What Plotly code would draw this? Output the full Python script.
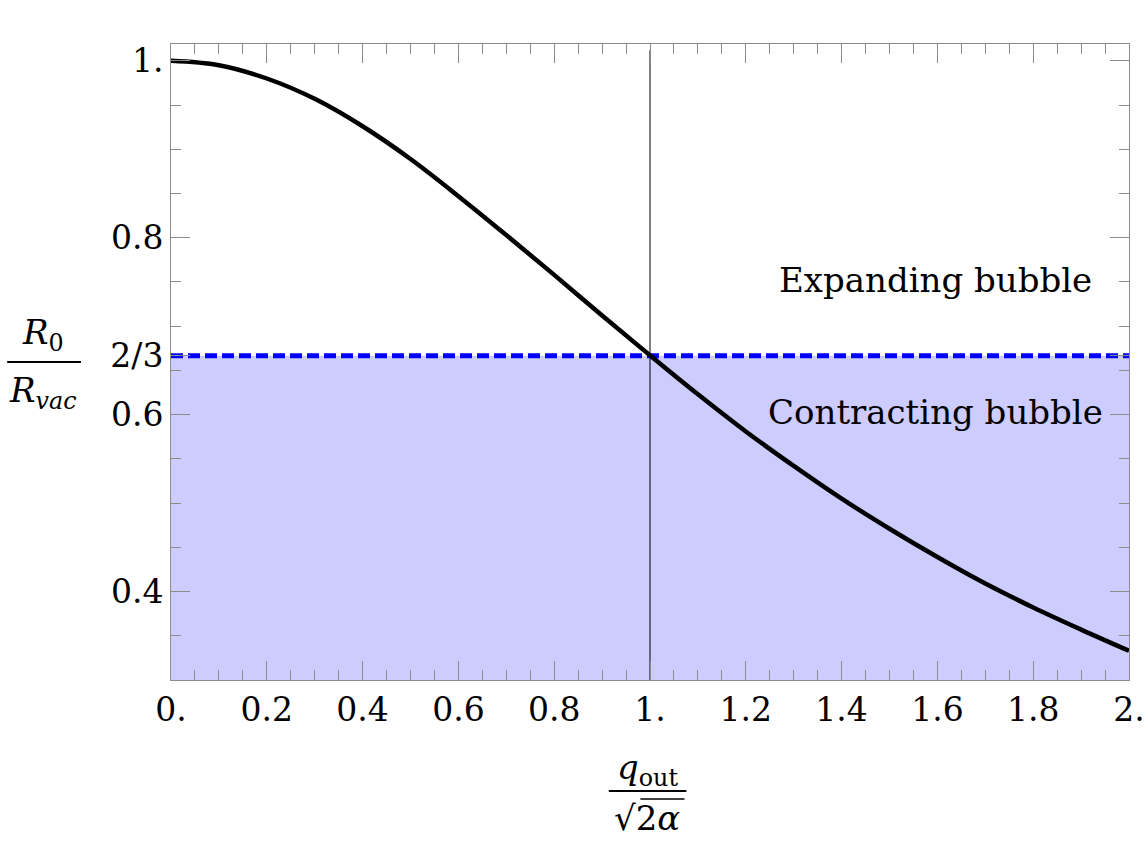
import plotly.graph_objects as go

# Values
q_vals = [0.0, 0.1, 0.2, 0.3, 0.4, 0.5, 0.6, 0.7, 0.8, 0.9, 1.0,
          1.1, 1.2, 1.3, 1.4, 1.5, 1.6, 1.7, 1.8, 1.9, 2.0]
r_vals = [1.000, 0.995, 0.980, 0.957, 0.926, 0.889, 0.847, 0.803, 0.758, 0.712, 0.667,
          0.623, 0.581, 0.542, 0.505, 0.471, 0.439, 0.409, 0.382, 0.357, 0.333]
threshold = 2 / 3
x_range = [0.0, 2.0]
y_range = [0.3, 1.019]
vline_x = 1.0
vline_y = [0.25, 1.012]
x_tickvals = [0.0, 0.2, 0.4, 0.6, 0.8, 1.0, 1.2, 1.4, 1.6, 1.8, 2.0]
x_ticktext = ["0.", "0.2", "0.4", "0.6", "0.8", "1.", "1.2", "1.4", "1.6", "1.8", "2."]
y_tickvals = [0.4, 0.6, threshold, 0.8, 1.0]
y_ticktext = ["0.4", "0.6", "2/3", "0.8", "1."]
region_labels = ["Expanding bubble", "Contracting bubble"]
region_label_x = [1.597, 1.597]
region_label_y = [0.752, 0.603]

FONT = "DejaVu Serif"
AX = "#8c8c8c"

fig = go.Figure()

fig.add_trace(go.Scatter(x=x_range, y=[threshold, threshold], mode="lines",
                         line=dict(width=0, color="rgba(0,0,0,0)"),
                         fill="tozeroy", fillcolor="#ccccff", hoverinfo="skip",
                         showlegend=False))
fig.add_trace(go.Scatter(x=[vline_x, vline_x], y=vline_y, mode="lines",
                         line=dict(color="black", width=1), showlegend=False))
fig.add_trace(go.Scatter(x=x_range, y=[threshold, threshold], mode="lines",
                         line=dict(color="#0000ff", width=5, dash="12px,5px"),
                         showlegend=False))
fig.add_trace(go.Scatter(x=q_vals, y=r_vals, mode="lines",
                         line=dict(color="black", width=4.5, shape="spline"),
                         showlegend=False))

for t, xx, yy in zip(region_labels, region_label_x, region_label_y):
    fig.add_annotation(x=xx, y=yy, xref="x", yref="y", text=t, showarrow=False,
                       font=dict(family=FONT, size=34, color="black"),
                       xanchor="center", yanchor="middle")

fig.add_annotation(x=-0.1336, y=0.5425, xref="paper", yref="paper",
                   text="<i>R</i><sub>0</sub>", showarrow=False,
                   font=dict(family=FONT, size=34, color="black"),
                   xanchor="center", yanchor="middle")
fig.add_annotation(x=-0.1336, y=0.4528, xref="paper", yref="paper",
                   text="<i>R</i><sub><i>vac</i></sub>", showarrow=False,
                   font=dict(family=FONT, size=34, color="black"),
                   xanchor="center", yanchor="middle")
fig.add_shape(type="line", xref="paper", yref="paper", x0=-0.171, x1=-0.094,
              y0=0.5, y1=0.5, line=dict(color="black", width=2))

fig.add_annotation(x=0.497, y=-0.1415, xref="paper", yref="paper",
                   text="<i>q</i><sub>out</sub>", showarrow=False,
                   font=dict(family=FONT, size=34, color="black"),
                   xanchor="center", yanchor="middle")
fig.add_annotation(x=0.497, y=-0.217, xref="paper", yref="paper",
                   text="√2<i>α</i>", showarrow=False,
                   font=dict(family=FONT, size=34, color="black"),
                   xanchor="center", yanchor="middle")
fig.add_shape(type="line", xref="paper", yref="paper", x0=0.457, x1=0.538,
              y0=-0.1745, y1=-0.1745, line=dict(color="black", width=2))
fig.add_shape(type="line", xref="paper", yref="paper", x0=0.49, x1=0.536,
              y0=-0.187, y1=-0.187, line=dict(color="black", width=1.5))

axis_common = dict(showgrid=False, zeroline=False, showline=True, linecolor=AX,
                   linewidth=1, mirror="allticks", ticks="inside", tickcolor=AX,
                   ticklen=19, tickwidth=1, automargin=False,
                   tickfont=dict(family=FONT, size=33, color="black"))

fig.update_xaxes(range=x_range, tickvals=x_tickvals, ticktext=x_ticktext,
                 minor=dict(ticks="inside", ticklen=10, tickcolor=AX, dtick=0.05,
                            tick0=0, showgrid=False),
                 **axis_common)
fig.update_yaxes(range=y_range, tickvals=y_tickvals, ticktext=y_ticktext,
                 minor=dict(ticks="inside", ticklen=10, tickcolor=AX, dtick=0.05,
                            tick0=0, showgrid=False),
                 **axis_common)

fig.update_layout(width=1146, height=844,
                  margin=dict(l=171, r=17, t=44, b=164, autoexpand=False),
                  plot_bgcolor="white", paper_bgcolor="white",
                  font=dict(family=FONT, color="black"))

fig.write_html("out.html")
